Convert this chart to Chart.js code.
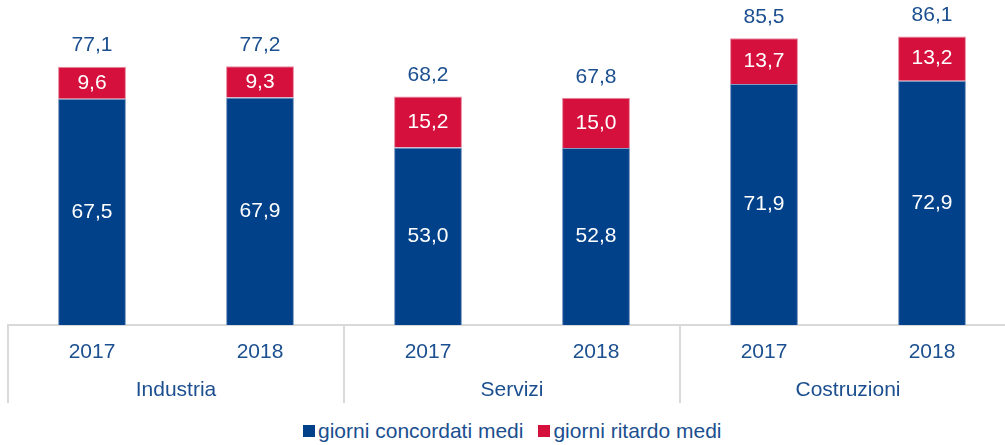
<!DOCTYPE html>
<html>
<head>
<meta charset="utf-8">
<script src="https://cdn.jsdelivr.net/npm/chart.js@4.4.1/dist/chart.umd.min.js"></script>
<style>
  body { margin: 0; background: #fff; }
  #wrap { position: relative; width: 1005px; height: 445px; overflow: hidden; }
  #box { position: absolute; left: 0; top: 0; width: 1020px; height: 405px; }
  #legend { position: absolute; left: 303px; top: 418px; height: 26px; display: flex; align-items: center;
            font: 21px "Liberation Sans", Arial, sans-serif; color: #1b4f8f; white-space: nowrap; }
  .item { display: flex; align-items: center; margin-right: 15px; }
  .sw { display: inline-block; width: 12px; height: 12px; margin-right: 3px; }
</style>
</head>
<body>
<div id="wrap">
  <div id="box"><canvas id="chart"></canvas></div>
  <div id="legend"></div>
</div>
<script>
const years = ["2017", "2018", "2017", "2018", "2017", "2018"];
const groups = ["Industria", "Servizi", "Costruzioni"];
const concordati = [67.5, 67.9, 53.0, 52.8, 71.9, 72.9];
const ritardo = [9.6, 9.3, 15.2, 15.0, 13.7, 13.2];
const totali = [77.1, 77.2, 68.2, 67.8, 85.5, 86.1];
const seriesNames = ["giorni concordati medi", "giorni ritardo medi"];
const seriesColors = ["#00418a", "#d5103c"];

const textColor = "#1b4f8f";
const fontFamily = '"Liberation Sans", Arial, sans-serif';

function fmt(v) {
    return v.toFixed(1).replace(".", ",");
}

// value labels inside bars and totals above
const valueLabels = {
    id: "valueLabels",
    afterDatasetsDraw(chart) {
        const ctx = chart.ctx;
        ctx.save();
        ctx.font = "21px " + fontFamily;
        ctx.textAlign = "center";
        ctx.textBaseline = "middle";
        ctx.fillStyle = "#ffffff";
        chart.data.datasets.forEach((ds, i) => {
            chart.getDatasetMeta(i).data.forEach((bar, j) => {
                ctx.fillText(fmt(ds.data[j]), bar.x, (bar.y + bar.base) / 2);
            });
        });
        ctx.fillStyle = textColor;
        chart.getDatasetMeta(1).data.forEach((bar, j) => {
            ctx.fillText(fmt(totali[j]), bar.x, bar.y - 21);
        });
        ctx.restore();
    }
};

// group dividers and group names under the year ticks
const groupAxis = {
    id: "groupAxis",
    afterDraw(chart) {
        const ctx = chart.ctx;
        const x = chart.scales.x;
        const y0 = chart.chartArea.bottom;
        const step = x.getPixelForValue(1) - x.getPixelForValue(0);
        ctx.save();
        ctx.strokeStyle = "#d9d9d9";
        ctx.lineWidth = 2;
        for (let g = 0; g <= groups.length; g++) {
            const px = Math.round(x.getPixelForValue(g * 2) - step / 2);
            ctx.beginPath();
            ctx.moveTo(px, y0);
            ctx.lineTo(px, y0 + 78);
            ctx.stroke();
        }
        ctx.font = "21px " + fontFamily;
        ctx.textAlign = "center";
        ctx.textBaseline = "middle";
        ctx.fillStyle = textColor;
        groups.forEach((name, g) => {
            const cx = (x.getPixelForValue(g * 2) + x.getPixelForValue(g * 2 + 1)) / 2;
            ctx.fillText(name, cx, y0 + 65);
        });
        ctx.restore();
    }
};

const ctx = document.getElementById("chart");

new Chart(ctx, {
    type: "bar",
    data: {
        labels: years,
        datasets: [
            {
                label: seriesNames[0],
                data: concordati,
                backgroundColor: seriesColors[0],
                borderColor: "#7f9cc4",
                borderWidth: 1
            },
            {
                label: seriesNames[1],
                data: ritardo,
                backgroundColor: seriesColors[1],
                borderColor: "#e88aa0",
                borderWidth: 1
            }
        ]
    },
    options: {
        responsive: true,
        maintainAspectRatio: false,
        animation: false,
        layout: { padding: { left: 8, right: 4, top: 0, bottom: 0 } },
        datasets: { bar: { categoryPercentage: 1, barPercentage: 0.404 } },
        plugins: {
            legend: { display: false },
            tooltip: { enabled: false }
        },
        scales: {
            x: {
                stacked: true,
                grid: { display: false, drawTicks: false },
                border: { display: true, color: "#d9d9d9", width: 2 },
                ticks: {
                    color: textColor,
                    font: { family: fontFamily, size: 21 },
                    padding: 15
                },
                afterFit(scale) { scale.height = 80; }
            },
            y: {
                stacked: true,
                display: false,
                min: 0,
                max: 97
            }
        }
    },
    plugins: [valueLabels, groupAxis]
});

// legend
const legend = document.getElementById("legend");
seriesNames.forEach((name, i) => {
    const item = document.createElement("span");
    item.className = "item";
    const sw = document.createElement("span");
    sw.className = "sw";
    sw.style.background = seriesColors[i];
    item.appendChild(sw);
    item.appendChild(document.createTextNode(name));
    legend.appendChild(item);
});
</script>
</body>
</html>
